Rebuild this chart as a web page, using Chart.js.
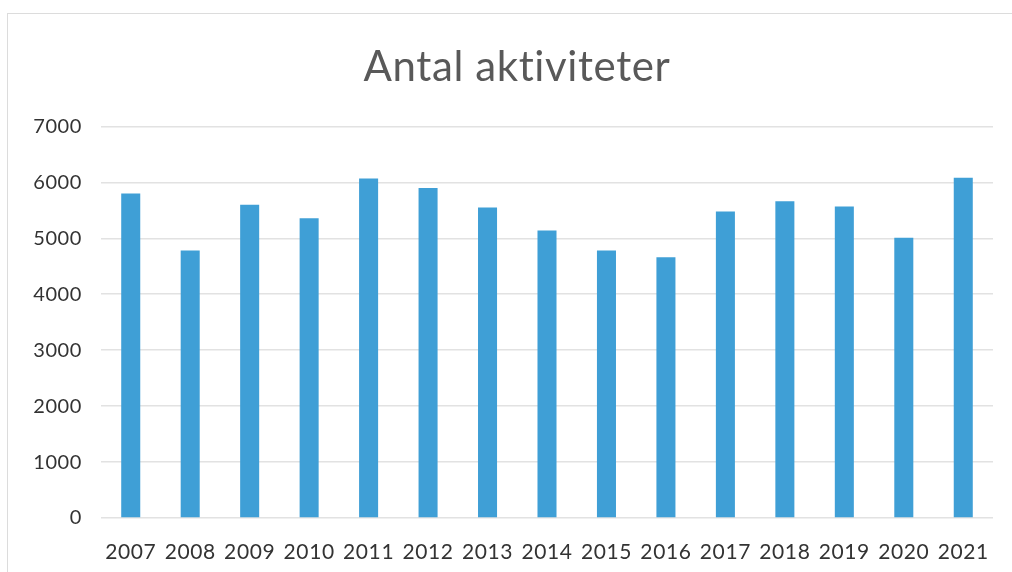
<!DOCTYPE html>
<html>
<head>
<meta charset="utf-8">
<script src="https://cdn.jsdelivr.net/npm/chart.js@4.4.0/dist/chart.umd.min.js"></script>
<style>
  html, body { margin: 0; padding: 0; background: #fff; }
  #wrap { position: relative; width: 1012px; height: 572px; overflow: hidden; }
  #frame { position: absolute; left: 7px; top: 13px; width: 1020px; height: 600px; border: 1px solid #dcdcdc; }
  canvas { position: absolute; left: 0; top: 0; }
</style>
</head>
<body>
<div id="wrap">
  <div id="frame"></div>
  <canvas id="chart" width="1012" height="572"></canvas>
</div>
<script>
const years = ['2007', '2008', '2009', '2010', '2011', '2012', '2013', '2014',
               '2015', '2016', '2017', '2018', '2019', '2020', '2021'];
const activities = [5800, 4780, 5600, 5360, 6070, 5900, 5550, 5140,
                    4780, 4660, 5480, 5660, 5570, 5010, 6080];
const yTicks = [0, 1000, 2000, 3000, 4000, 5000, 6000, 7000];

// a little letter spacing keeps "ti" from turning into a ligature
const spacing = {
    id: 'spacing',
    beforeDraw: function(chart) { chart.ctx.letterSpacing = '0.6px'; }
};

const ctx = document.getElementById('chart').getContext('2d');
new Chart(ctx, {
    type: 'bar',
    data: {
        labels: years,
        datasets: [{
            label: 'Antal aktiviteter',
            data: activities,
            backgroundColor: '#3f9fd6',
            barPercentage: 0.32,
            categoryPercentage: 1
        }]
    },
    plugins: [spacing],
    options: {
        responsive: false,
        animation: false,
        // left padding pulls the title centre over to where it sits in the original
        layout: { padding: { left: 41, right: 19, top: 0, bottom: 0 } },
        plugins: {
            legend: { display: false },
            tooltip: { enabled: false },
            title: {
                display: true,
                text: 'Antal aktiviteter',
                color: '#595959',
                font: { family: 'Lato', size: 42, weight: 'normal' },
                padding: { top: 42, bottom: 34 }
            }
        },
        scales: {
            x: {
                grid: { display: false },
                border: { display: false },
                ticks: {
                    color: '#333',
                    font: { family: 'Lato', size: 21 },
                    maxRotation: 0,
                    padding: 14
                },
                afterFit: function(scale) { scale.height = 54; }
            },
            y: {
                min: 0,
                max: 7000,
                afterBuildTicks: function(scale) {
                    scale.ticks = yTicks.map(v => ({ value: v }));
                },
                grid: { color: '#e2e2e2', lineWidth: 1.5, drawTicks: false },
                border: { display: false },
                ticks: {
                    color: '#333',
                    font: { family: 'Lato', size: 20 },
                    padding: 19,
                    callback: function(value) { return String(value); }
                },
                afterFit: function(scale) {
                    scale.width = 60;
                    // labels reach into the padding, so don't clip them to the axis box
                    scale._computeLabelArea = function() { return undefined; };
                }
            }
        }
    }
});
</script>
</body>
</html>
